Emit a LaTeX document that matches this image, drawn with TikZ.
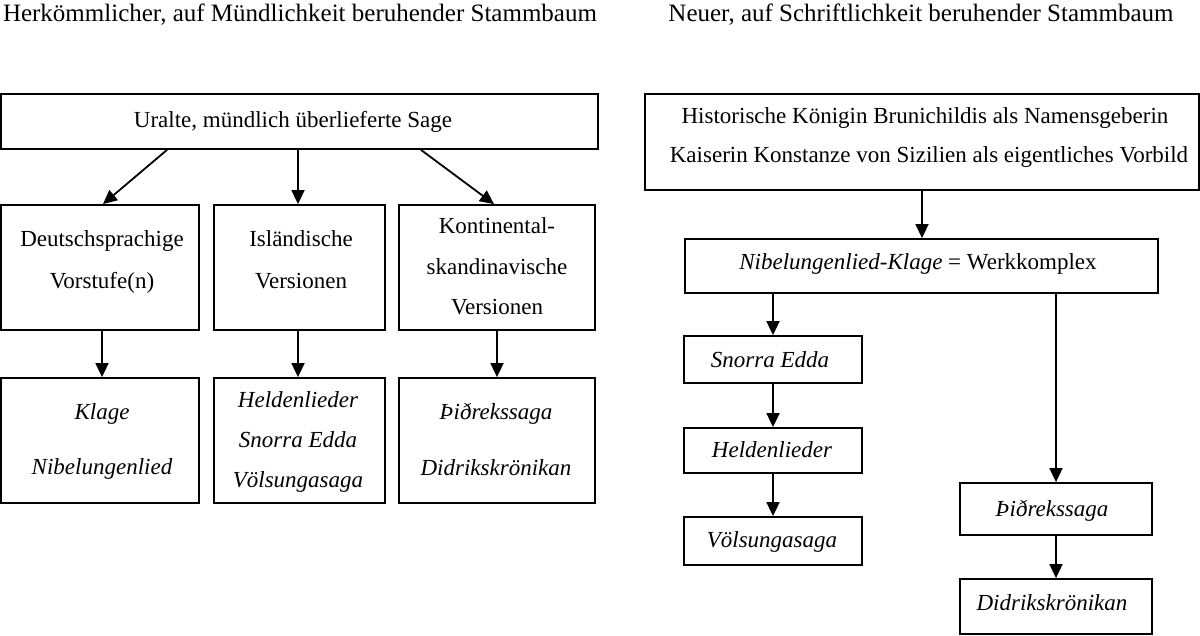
\documentclass[tikz,border=0pt]{standalone}
\usepackage{fontspec}
\setmainfont{Liberation Serif}
\usetikzlibrary{arrows.meta}
\begin{document}
\begin{tikzpicture}[x=1pt,y=-1pt,
  box/.style={draw=black,line width=1.8pt,inner sep=0pt,minimum width=#1},
  txt/.style={anchor=base,inner sep=0pt,font=\fontsize{23}{27}\selectfont},
  ttl/.style={anchor=base,inner sep=0pt,font=\fontsize{25}{29}\selectfont},
  arr/.style={line width=1.8pt,-{Triangle[width=13pt,length=14pt]}}]
\useasboundingbox (0,0) rectangle (1200,636);
% titles
\node[ttl] (t1) at (300,22) {Herkömmlicher, auf Mündlichkeit beruhender Stammbaum};
\node[ttl] (t2) at (921,22) {Neuer, auf Schriftlichkeit beruhender Stammbaum};
% left tree boxes
\node[box=597pt,minimum height=55pt] (ltop) at (299.5,121.5) {};
\node[box=198pt,minimum height=125pt] (b1) at (100,267.5) {};
\node[box=171pt,minimum height=125pt] (b2) at (299.5,267.5) {};
\node[box=196pt,minimum height=125pt] (b3) at (497,267.5) {};
\node[box=198pt,minimum height=125pt] (r1) at (100,440.5) {};
\node[box=171pt,minimum height=125pt] (r2) at (299.5,440.5) {};
\node[box=196pt,minimum height=125pt] (r3) at (497,440.5) {};
% left texts
\node[txt] (lt) at (293,128) {Uralte, mündlich überlieferte Sage};
\node[txt] (b1a) at (102,247) {Deutschsprachige};
\node[txt] (b1b) at (102,289) {Vorstufe(n)};
\node[txt] (b2a) at (301,247) {Isländische};
\node[txt] (b2b) at (301,289) {Versionen};
\node[txt] (b3a) at (497,234) {Kontinental-};
\node[txt] (b3b) at (497,275) {skandinavische};
\node[txt] (b3c) at (497,315) {Versionen};
\node[txt] (r1a) at (102,420) {\itshape Klage};
\node[txt] (r1b) at (102,474) {\itshape Nibelungenlied};
\node[txt] (r2a) at (298,407) {\itshape Heldenlieder};
\node[txt] (r2b) at (298,447) {\itshape Snorra Edda};
\node[txt] (r2c) at (298,487) {\itshape Völsungasaga};
\node[txt] (r3a) at (496,420) {\itshape Þiðrekssaga};
\node[txt] (r3b) at (496,475) {\itshape Didrikskrönikan};
% left arrows
\draw[arr] ([xshift=-132.5pt]ltop.south) -- ([xshift=3pt]b1.north);
\draw[arr] ([xshift=-1.5pt]ltop.south) -- ([xshift=-1.5pt]b2.north);
\draw[arr] ([xshift=121.5pt]ltop.south) -- ([xshift=-3pt]b3.north);
\draw[arr] ([xshift=2pt]b1.south) -- ([xshift=2pt]r1.north);
\draw[arr] ([xshift=-1.5pt]b2.south) -- ([xshift=-1.5pt]r2.north);
\draw[arr] (b3.south) -- (r3.north);
% right tree boxes
\node[box=554pt,minimum height=96pt] (rtop) at (922,142) {};
\node[box=473pt,minimum height=54pt] (werk) at (921.5,266) {};
\node[box=178pt,minimum height=47pt] (snorra) at (773,359.5) {};
\node[box=178pt,minimum height=45pt] (held) at (773,450.5) {};
\node[box=178pt,minimum height=48pt] (vols) at (773,541) {};
\node[box=192pt,minimum height=52pt] (thid) at (1056,509) {};
\node[box=192pt,minimum height=55pt] (didr) at (1056,606.5) {};
% right texts
\node[txt] (rt1) at (925,124) {Historische Königin Brunichildis als Namensgeberin};
\node[txt] (rt2) at (929,163) {Kaiserin Konstanze von Sizilien als eigentliches Vorbild};
\node[txt] (wk) at (918,270) {\textit{Nibelungenlied-Klage} = Werkkomplex};
\node[txt] (sn) at (770,367) {\itshape Snorra Edda};
\node[txt] (he) at (772,457) {\itshape Heldenlieder};
\node[txt] (vo) at (772,547) {\itshape Völsungasaga};
\node[txt] (th) at (1052,516) {\itshape Þiðrekssaga};
\node[txt] (di) at (1052,610) {\itshape Didrikskrönikan};
% right arrows
\draw[arr] (rtop.south) -- (rtop.south |- werk.north);
\draw[arr] (werk.south -| snorra.north) -- (snorra.north);
\draw[arr] (werk.south -| thid.north) -- (thid.north);
\draw[arr] (snorra.south) -- (held.north);
\draw[arr] (held.south) -- (vols.north);
\draw[arr] (thid.south) -- (didr.north);
\end{tikzpicture}
\end{document}
